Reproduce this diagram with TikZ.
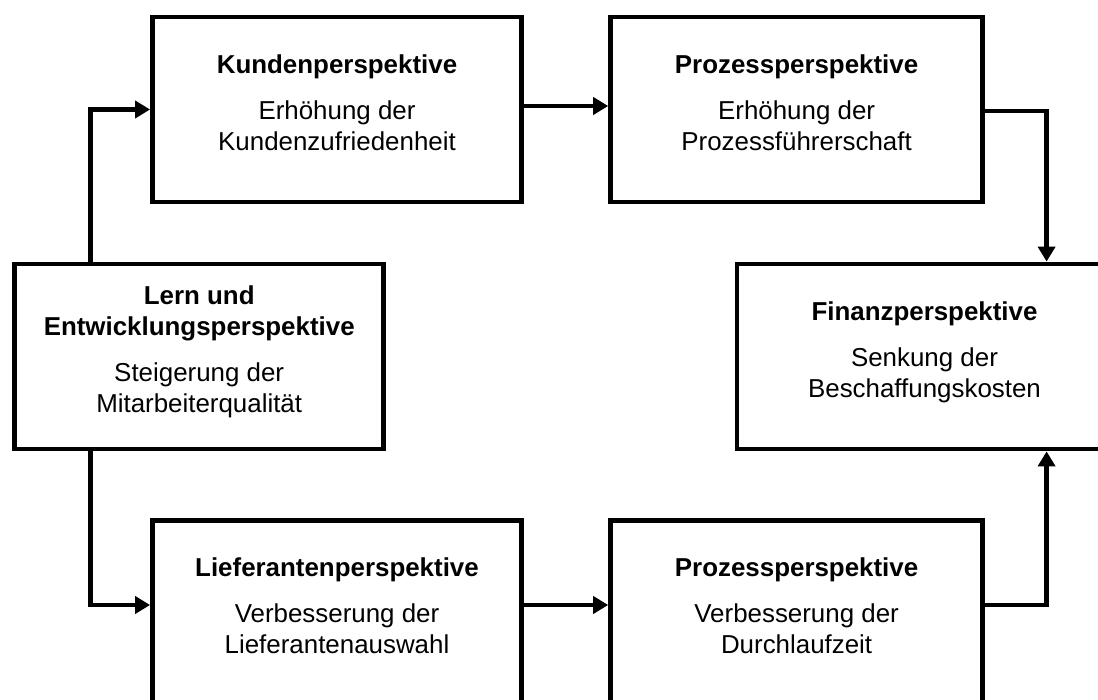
\documentclass[tikz,border=0pt]{standalone}
\usepackage{fontspec}
\setmainfont{Liberation Sans}
\usetikzlibrary{arrows.meta,positioning}

\tikzset{
  perspbox/.style={rectangle, draw, line width=4.8pt, minimum width=369pt,
    minimum height=185pt, align=center, text depth=14pt,
    font=\fontsize{25.9pt}{31pt}\selectfont},
  flow/.style={line width=4.8pt, -{Triangle[length=15pt,width=17pt]}}
}

\begin{document}
\begin{tikzpicture}[x=1pt,y=-1pt]
	\useasboundingbox (0,0) rectangle (1098,700);
	\clip (0,0) rectangle (1098,700);

	% perspectives
	\node[perspbox] (kunden) at (337,109.5)
		{\textbf{Kundenperspektive}\\[15pt]Erhöhung der\\Kundenzufriedenheit};
	\node[perspbox, minimum width=372pt] (prozessA) at (796.6,109.5)
		{\textbf{Prozessperspektive}\\[15pt]Erhöhung der\\Prozessführerschaft};
	\node[perspbox] (lern) at (199.2,356.5)
		{\textbf{Lern und}\\\textbf{Entwicklungsperspektive}\\[15pt]Steigerung der\\Mitarbeiterqualität};
	\node[perspbox, minimum width=375pt] (finanz) at (924.5,356.5)
		{\textbf{Finanzperspektive}\\[15pt]Senkung der\\Beschaffungskosten};
	\node[perspbox] (liefer) at (337,613)
		{\textbf{Lieferantenperspektive}\\[15pt]Verbesserung der\\Lieferantenauswahl};
	\node[perspbox, minimum width=372pt] (prozessB) at (796.6,613)
		{\textbf{Prozessperspektive}\\[15pt]Verbesserung der\\Durchlaufzeit};

	% flows
	\draw[flow] ([xshift=78pt]lern.north west) |- (kunden.west);
	\draw[flow] ([yshift=3.5pt]kunden.east) -- ([yshift=3.5pt]prozessA.west);
	\draw[flow] ([yshift=-1.5pt]prozessA.east) -| ([xshift=312pt]finanz.north west);
	\draw[flow] ([xshift=78pt]lern.south west) |- ([yshift=8pt]liefer.west);
	\draw[flow] ([yshift=8pt]liefer.east) -- ([yshift=8pt]prozessB.west);
	\draw[flow] ([yshift=8pt]prozessB.east) -| ([xshift=312pt]finanz.south west);
\end{tikzpicture}
\end{document}
